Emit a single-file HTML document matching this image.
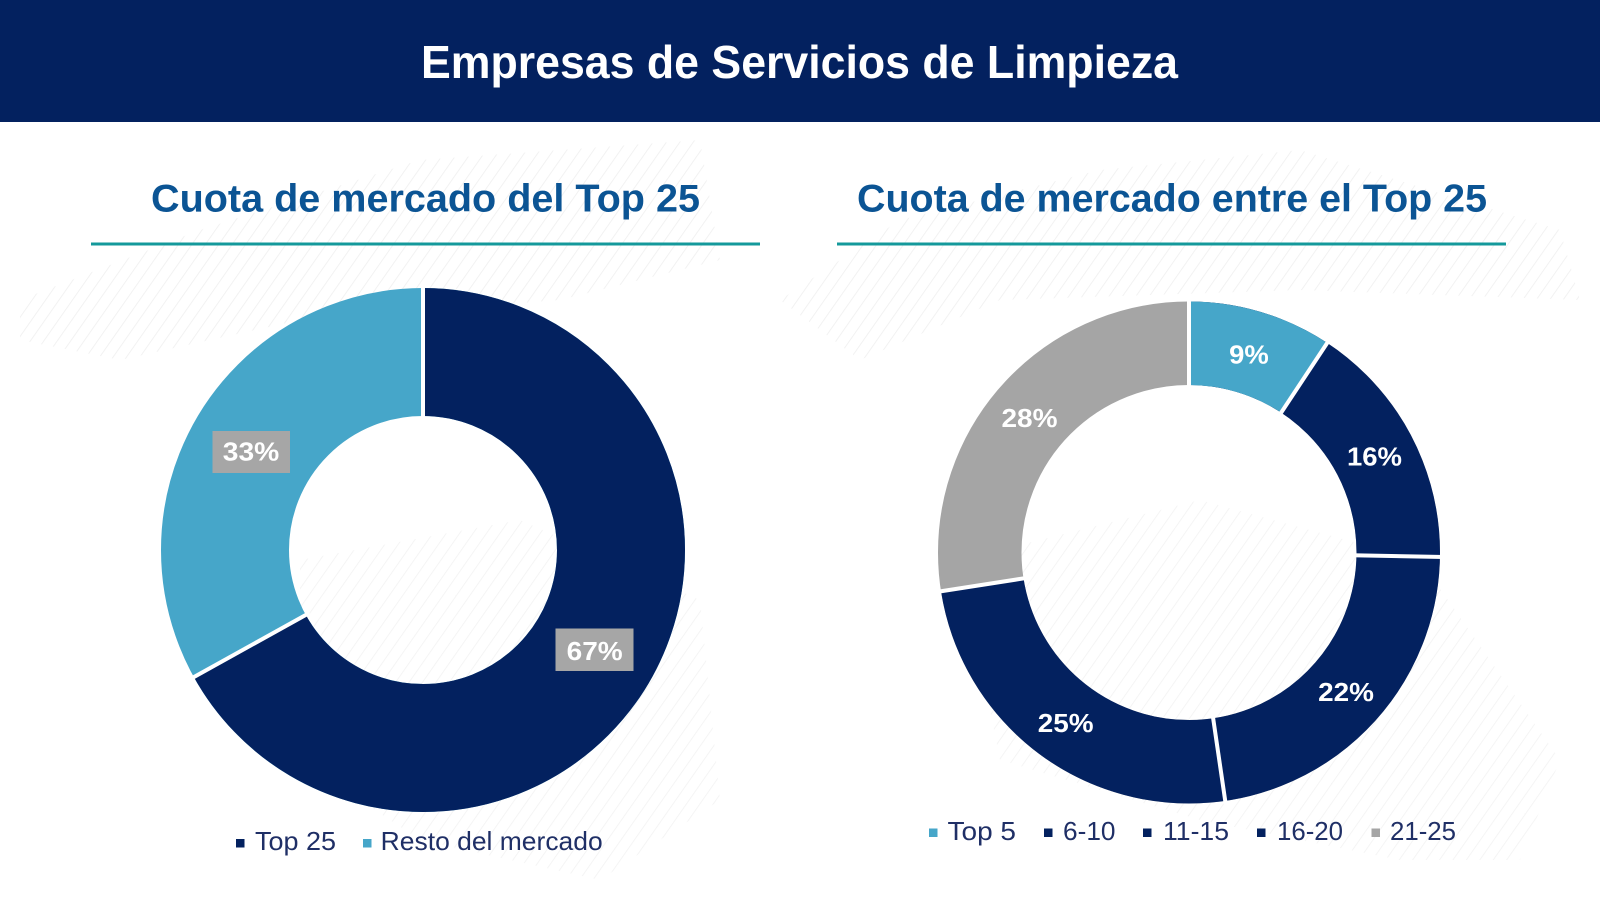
<!DOCTYPE html>
<html>
<head>
<meta charset="utf-8">
<style>
  html,body{margin:0;padding:0;background:#ffffff;}
  body{width:1600px;height:900px;overflow:hidden;}
  svg{display:block;}
</style>
</head>
<body>
<svg width="1600" height="900" viewBox="0 0 1600 900" xmlns="http://www.w3.org/2000/svg">
  <defs>
    <pattern id="hatch" patternUnits="userSpaceOnUse" width="11" height="11" patternTransform="rotate(35)">
      <line x1="0" y1="0" x2="0" y2="11" stroke="#efefef" stroke-width="1.6"/>
    </pattern>
  </defs>
  <rect x="0" y="0" width="1600" height="900" fill="#ffffff"/>

  <!-- faint background texture -->
  <polygon points="20,300 200,230 420,160 700,140 720,260 560,300 300,320 120,360 20,340" fill="url(#hatch)"/>
  <polygon points="780,300 900,220 1100,170 1300,150 1560,230 1580,300 1300,290 1000,300 860,360" fill="url(#hatch)"/>
  <polygon points="300,560 520,520 700,600 720,800 600,880 420,840 300,760" fill="url(#hatch)" opacity="0.8"/>
  <polygon points="960,560 1200,500 1420,560 1560,760 1520,860 1400,860 1200,820 1000,760" fill="url(#hatch)" opacity="0.8"/>

  <!-- header -->
  <rect x="0" y="0" width="1600" height="122" fill="#03215f"/>
  <text x="421" y="78" font-family="Liberation Sans, sans-serif" font-weight="bold" font-size="46" fill="#ffffff" textLength="757" lengthAdjust="spacingAndGlyphs">Empresas de Servicios de Limpieza</text>

  <!-- subtitles -->
  <text x="151" y="211.5" font-family="Liberation Sans, sans-serif" font-weight="bold" font-size="38.5" fill="#0b5494" textLength="549" lengthAdjust="spacingAndGlyphs">Cuota de mercado del Top 25</text>
  <rect x="91" y="242.5" width="669" height="3" fill="#14999b"/>
  <text x="857" y="211.5" font-family="Liberation Sans, sans-serif" font-weight="bold" font-size="38.5" fill="#0b5494" textLength="630" lengthAdjust="spacingAndGlyphs">Cuota de mercado entre el Top 25</text>
  <rect x="837" y="242.5" width="669" height="3" fill="#14999b"/>

  <!-- LEFT DONUT -->
  <g transform="rotate(-90 423 550)">
    <circle cx="423" cy="550" r="198" fill="none" stroke="#46a6c9" stroke-width="128"/>
    <circle cx="423" cy="550" r="198" fill="none" stroke="#03215f" stroke-width="128" stroke-dasharray="832.84 2000"/>
  </g>
  <line x1="423" y1="420" x2="423" y2="284" stroke="#ffffff" stroke-width="4"/>
  <line x1="309.3" y1="613.0" x2="190.4" y2="679.0" stroke="#ffffff" stroke-width="4"/>

  <rect x="212.5" y="431" width="77.5" height="42" fill="#a6a6a6"/>
  <text x="251" y="460.5" text-anchor="middle" font-family="Liberation Sans, sans-serif" font-weight="bold" font-size="26" fill="#ffffff" textLength="56.5" lengthAdjust="spacingAndGlyphs">33%</text>
  <rect x="555.5" y="628.5" width="78" height="42.5" fill="#a6a6a6"/>
  <text x="594.7" y="660" text-anchor="middle" font-family="Liberation Sans, sans-serif" font-weight="bold" font-size="26" fill="#ffffff" textLength="56" lengthAdjust="spacingAndGlyphs">67%</text>

  <!-- RIGHT DONUT -->
  <g transform="rotate(-90 1189 552.5)">
    <circle cx="1189" cy="552.5" r="209.25" fill="none" stroke="#a5a5a5" stroke-width="83.5"/>
    <circle cx="1189" cy="552.5" r="209.25" fill="none" stroke="#03215f" stroke-width="83.5" stroke-dasharray="953.59 3000"/>
    <circle cx="1189" cy="552.5" r="209.25" fill="none" stroke="#46a6c9" stroke-width="83.5" stroke-dasharray="121.98 3000"/>
  </g>
  <g stroke="#ffffff" stroke-width="4">
    <line x1="1189" y1="391" x2="1189" y2="297"/>
    <line x1="1278.7" y1="416.4" x2="1329.4" y2="339.6"/>
    <line x1="1352.0" y1="555.3" x2="1444.0" y2="557.0"/>
    <line x1="1212.5" y1="713.8" x2="1225.8" y2="804.8"/>
    <line x1="1028.0" y1="577.7" x2="937.1" y2="591.9"/>
  </g>
  <g font-family="Liberation Sans, sans-serif" font-weight="bold" font-size="26" fill="#ffffff" text-anchor="middle">
    <text x="1249" y="363.5" textLength="39.6" lengthAdjust="spacingAndGlyphs">9%</text>
    <text x="1374.5" y="465.5" textLength="55" lengthAdjust="spacingAndGlyphs">16%</text>
    <text x="1346" y="701" textLength="55.8" lengthAdjust="spacingAndGlyphs">22%</text>
    <text x="1065.7" y="732" textLength="55.8" lengthAdjust="spacingAndGlyphs">25%</text>
    <text x="1029.5" y="427" textLength="56" lengthAdjust="spacingAndGlyphs">28%</text>
  </g>

  <!-- LEFT LEGEND -->
  <rect x="236" y="839" width="8.5" height="8.5" fill="#03215f"/>
  <text x="255" y="850" font-family="Liberation Sans, sans-serif" font-size="26" fill="#1f2f66" textLength="81" lengthAdjust="spacingAndGlyphs">Top 25</text>
  <rect x="363" y="839" width="8.5" height="8.5" fill="#46a6c9"/>
  <text x="380.7" y="850" font-family="Liberation Sans, sans-serif" font-size="26" fill="#1f2f66" textLength="222" lengthAdjust="spacingAndGlyphs">Resto del mercado</text>

  <!-- RIGHT LEGEND -->
  <g font-family="Liberation Sans, sans-serif" font-size="26" fill="#1f2f66">
    <rect x="929" y="828.5" width="8.5" height="8.5" fill="#46a6c9"/>
    <text x="947.5" y="840" textLength="68.5" lengthAdjust="spacingAndGlyphs">Top 5</text>
    <rect x="1044" y="828.5" width="8.5" height="8.5" fill="#03215f"/>
    <text x="1063" y="840" textLength="52.5" lengthAdjust="spacingAndGlyphs">6-10</text>
    <rect x="1143" y="828.5" width="8.5" height="8.5" fill="#03215f"/>
    <text x="1163" y="840" textLength="66" lengthAdjust="spacingAndGlyphs">11-15</text>
    <rect x="1257" y="828.5" width="8.5" height="8.5" fill="#03215f"/>
    <text x="1277" y="840" textLength="66" lengthAdjust="spacingAndGlyphs">16-20</text>
    <rect x="1371.5" y="828.5" width="8.5" height="8.5" fill="#a5a5a5"/>
    <text x="1390" y="840" textLength="66" lengthAdjust="spacingAndGlyphs">21-25</text>
  </g>
</svg>
</body>
</html>
